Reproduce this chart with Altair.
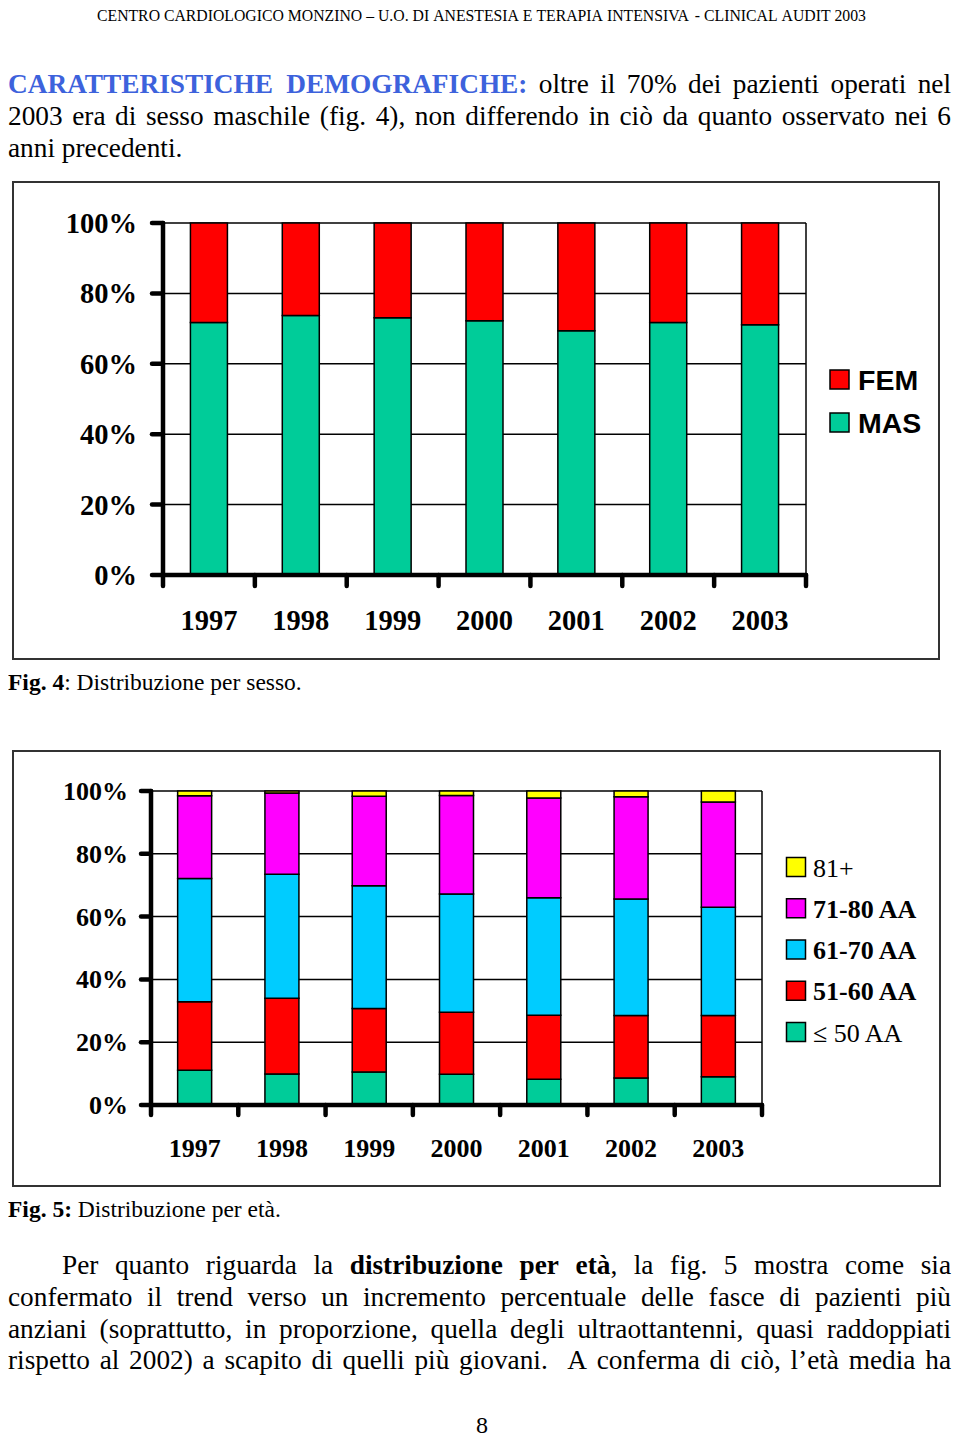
import altair as alt
import pandas as pd

# ---------------- data ----------------
years = ["1997", "1998", "1999", "2000", "2001", "2002", "2003"]

sex_groups = ["MAS", "FEM"]
sex_legend = ["FEM", "MAS"]
sex_colors = ["#00CC99", "#FF0000"]
mas_pct = [71.7, 73.7, 73.1, 72.2, 69.4, 71.7, 71.1]
fem_pct = [28.3, 26.3, 26.9, 27.8, 30.6, 28.3, 28.9]

age_groups = ["≤ 50 AA", "51-60 AA", "61-70 AA", "71-80 AA", "81+"]
age_legend = ["81+", "71-80 AA", "61-70 AA", "51-60 AA", "≤ 50 AA"]
age_legend_bold = [False, True, True, True, False]
age_colors = ["#00CC99", "#FF0000", "#00CCFF", "#FF00FF", "#FFFF00"]
age_le50 = [11.1, 9.9, 10.5, 9.8, 8.2, 8.6, 9.0]
age_51_60 = [21.8, 24.1, 20.2, 19.7, 20.4, 19.9, 19.5]
age_61_70 = [39.2, 39.5, 39.1, 37.7, 37.4, 37.1, 34.5]
age_71_80 = [26.4, 25.9, 28.5, 31.4, 31.8, 32.6, 33.5]
age_81 = [1.5, 0.6, 1.7, 1.4, 2.2, 1.8, 3.5]

pct_ticks = [0, 20, 40, 60, 80, 100]
pct_labels = ["0%", "20%", "40%", "60%", "80%", "100%"]

header_text = "CENTRO CARDIOLOGICO MONZINO – U.O. DI ANESTESIA E TERAPIA INTENSIVA - CLINICAL AUDIT 2003"
para1_lines = [
    [("CARATTERISTICHE DEMOGRAFICHE:", "blue"), (" oltre il 70% dei pazienti operati nel", "reg")],
    [("2003 era di sesso maschile (fig. 4), non differendo in ciò da quanto osservato nei 6", "reg")],
    [("anni precedenti.", "reg")],
]
caption4 = [("Fig. 4", "bold"), (": Distribuzione per sesso.", "reg")]
caption5 = [("Fig. 5:", "bold"), (" Distribuzione per età.", "reg")]
para2_lines = [
    [("Per quanto riguarda la ", "reg"), ("distribuzione per età", "bold"), (", la fig. 5 mostra come sia", "reg")],
    [("confermato il trend verso un incremento percentuale delle fasce di pazienti più", "reg")],
    [("anziani (soprattutto, in proporzione, quella degli ultraottantenni, quasi raddoppiati", "reg")],
    [("rispetto al 2002) a scapito di quelli più giovani.  A conferma di ciò, l’età media ha", "reg")],
]
page_number = "8"

# ---------------- text metrics (Times, 1/1000 em) ----------------
def _table(groups):
    d = {}
    for chars, w in groups:
        for ch in chars:
            d[ch] = w
    return d

TIMES_REG = _table([
    (" .,", 250), ("ijlt:;ì/", 278), ("fr()-’I", 333), ("sJ", 389), ("acezèà", 444),
    ("bdghknopquvxy0123456789òù–", 500), ("≤", 549), ("FPS", 556), ("+", 564),
    ("ELTZ", 611), ("BCR", 667), ("ADGHKNOQUVXYw", 722), ("m", 778), ("%", 833),
    ("M", 889), ("W", 944),
])
TIMES_BOLD = _table([
    (" .,", 250), ("ilì", 278), ("fjt():’-", 333), ("sI", 389), ("cezrè", 444),
    ("agovxy0123456789àòJ–", 500), ("≤", 549), ("bdhknpquùS", 556), ("+", 570),
    ("FP", 611), ("BELTZ", 667), ("ACDNRUVXYw", 722), ("GHKOQ", 778), ("m", 833),
    ("M", 944), ("%W", 1000),
])

STYLE_COLOR = {"reg": "#000000", "bold": "#000000", "blue": "#3D62DC"}


def is_bold(st):
    return st in ("bold", "blue")


def text_width(s, bold, size):
    tab = TIMES_BOLD if bold else TIMES_REG
    return sum(tab.get(ch, 500) for ch in s) * size / 1000.0


rows = []


def add_line(runs, y, x_left, x_right=None, size=27.3, justify=False, center=None):
    words = [[]]
    for txt, st in runs:
        parts = txt.split(" ")
        for i, p in enumerate(parts):
            if i > 0:
                words.append([])
            if p:
                words[-1].append((p, st))
    widths = [sum(text_width(s, is_bold(st), size) for s, st in w) for w in words]
    total = sum(widths)
    ngaps = len(words) - 1
    gap = TIMES_REG[" "] * size / 1000.0
    if justify and ngaps > 0:
        gap = (x_right - x_left - total) / ngaps
    if center is not None:
        x_left = center - (total + gap * ngaps) / 2.0
    x = x_left
    for w, ww in zip(words, widths):
        for s, st in w:
            rows.append(dict(t=s, x=x, y=y, fs=size, col=STYLE_COLOR[st], bold=is_bold(st)))
            x += text_width(s, is_bold(st), size)
        x += gap


BODY = 27.3
LEFT, RIGHT = 0, 943

# header
hdr_w = text_width(header_text, False, 1000) / 1000.0
add_line([(header_text, "reg")], 13, 0, size=769 / hdr_w, center=473.5)
# paragraph 1
add_line(para1_lines[0], 85, LEFT, RIGHT, BODY, justify=True)
add_line(para1_lines[1], 117, LEFT, RIGHT, BODY, justify=True)
add_line(para1_lines[2], 149, LEFT, size=BODY)
# captions
add_line(caption4, 682, LEFT, size=23.5)
add_line(caption5, 1208.5, LEFT, size=23.5)
# paragraph 2
add_line(para2_lines[0], 1266, 54, RIGHT, BODY, justify=True)
add_line(para2_lines[1], 1298, LEFT, RIGHT, BODY, justify=True)
add_line(para2_lines[2], 1330, LEFT, RIGHT, BODY, justify=True)
add_line(para2_lines[3], 1361, LEFT, RIGHT, BODY, justify=True)
# page number
add_line([(page_number, "reg")], 1425, 0, size=24, center=474)

text_df = pd.DataFrame(rows)


def text_layer(df, weight):
    return alt.Chart(df).mark_text(
        align="left", baseline="alphabetic", font="Liberation Serif", fontWeight=weight
    ).encode(
        x=alt.X("x:Q", scale=None, axis=None),
        y=alt.Y("y:Q", scale=None, axis=None),
        text="t:N",
        size=alt.Size("fs:Q", scale=None, legend=None),
        color=alt.Color("col:N", scale=None, legend=None),
    )


text_layers = [
    text_layer(text_df[~text_df["bold"]], "normal"),
    text_layer(text_df[text_df["bold"]], "bold"),
]

one = pd.DataFrame({"a": [0]})


def frame(x0, x1, y0, y1):
    return alt.Chart(one).mark_rect(fill="white", stroke="#333333", strokeWidth=2).encode(
        x=alt.value(x0), x2=alt.value(x1), y=alt.value(y0), y2=alt.value(y1)
    )


def panel(bar_df, groups, colors, X0, X1, Y0, Y100, bar_w, ylab_x, ylab_dy, lab_size, xlab_y, tl):
    n = len(years)
    step = (X1 - X0) / n
    xs = alt.Scale(type="band", domain=years, range=[X0, X1], paddingInner=0, paddingOuter=0)
    xp = alt.Scale(type="point", domain=years, range=[X0 + step / 2, X1 - step / 2], padding=0)
    ys = alt.Scale(domain=[0, 100], range=[Y0, Y100], nice=False, zero=False)
    xk = alt.Scale(domain=[0, n], range=[X0, X1], nice=False, zero=False)
    tick_df = pd.DataFrame({"v": pct_ticks, "lab": pct_labels})
    span_df = pd.DataFrame({"a": [0], "b": [100]})
    bnd_df = pd.DataFrame({"k": list(range(n + 1))})
    thick = dict(color="black", strokeWidth=4.5, strokeCap="round")

    grid = alt.Chart(tick_df).transform_filter("datum.v > 0").mark_rule(color="black", strokeWidth=1.5).encode(
        y=alt.Y("v:Q", scale=ys, axis=None), x=alt.value(X0), x2=alt.value(X1))
    right = alt.Chart(span_df).mark_rule(color="black", strokeWidth=1.5).encode(
        x=alt.value(X1), y=alt.Y("a:Q", scale=ys, axis=None), y2="b:Q")
    bars = alt.Chart(bar_df).mark_bar(size=bar_w, stroke="black", strokeWidth=1.5).encode(
        x=alt.X("year:N", scale=xs, axis=None),
        y=alt.Y("val:Q", scale=ys, axis=None, stack="zero"),
        color=alt.Color("grp:N", scale=alt.Scale(domain=groups, range=colors), legend=None),
        order=alt.Order("ord:Q"),
    )
    yaxis = alt.Chart(span_df).mark_rule(**thick).encode(
        x=alt.value(X0), y=alt.Y("a:Q", scale=ys, axis=None), y2="b:Q")
    xaxis = alt.Chart(span_df).mark_rule(**thick).encode(
        y=alt.Y("a:Q", scale=ys, axis=None), x=alt.value(X0), x2=alt.value(X1))
    yticks = alt.Chart(tick_df).mark_rule(**thick).encode(
        y=alt.Y("v:Q", scale=ys, axis=None), x=alt.value(X0 - tl), x2=alt.value(X0))
    xticks = alt.Chart(bnd_df).mark_rule(**thick).encode(
        x=alt.X("k:Q", scale=xk, axis=None), y=alt.value(Y0), y2=alt.value(Y0 + tl))
    ylab = alt.Chart(tick_df).mark_text(
        align="right", baseline="alphabetic", dy=ylab_dy, font="Liberation Serif",
        fontWeight="bold", fontSize=lab_size, color="black").encode(
        y=alt.Y("v:Q", scale=ys, axis=None), x=alt.value(ylab_x), text="lab:N")
    xlab = alt.Chart(pd.DataFrame({"year": years})).mark_text(
        align="center", baseline="alphabetic", font="Liberation Serif",
        fontWeight="bold", fontSize=lab_size, color="black").encode(
        x=alt.X("year:N", scale=xp, axis=None), y=alt.value(xlab_y), text="year:N")
    return [grid, right, bars, yaxis, xaxis, yticks, xticks, ylab, xlab]


# chart data tables
sex_df = pd.DataFrame({
    "year": years * 2,
    "grp": ["MAS"] * len(years) + ["FEM"] * len(years),
    "val": mas_pct + fem_pct,
    "ord": [0] * len(years) + [1] * len(years),
})
age_series = [age_le50, age_51_60, age_61_70, age_71_80, age_81]
age_rows = []
for gi, (g, ser) in enumerate(zip(age_groups, age_series)):
    for y, v in zip(years, ser):
        age_rows.append(dict(year=y, grp=g, val=v, ord=gi))
age_df = pd.DataFrame(age_rows)

p1 = panel(sex_df, sex_groups, sex_colors, 155, 798, 567, 215, 37, 129, 10, 28.5, 622, 11)
p2 = panel(age_df, age_groups, age_colors, 143, 754, 1097, 783, 34, 120, 9, 26, 1148.5, 10)

# legends
leg1_df = pd.DataFrame({"grp": sex_legend})
leg1_y = alt.Scale(type="point", domain=sex_legend, range=[371.5, 414.5], padding=0)
leg1_sq = alt.Chart(leg1_df).mark_square(size=361, stroke="black", strokeWidth=1.5, opacity=1).encode(
    x=alt.value(831.5), y=alt.Y("grp:N", scale=leg1_y, axis=None),
    color=alt.Color("grp:N", scale=alt.Scale(domain=sex_groups, range=sex_colors), legend=None))
leg1_tx = alt.Chart(leg1_df).mark_text(
    align="left", baseline="alphabetic", dy=10, font="Liberation Sans", fontWeight="bold",
    fontSize=28.5, color="black").encode(
    x=alt.value(850), y=alt.Y("grp:N", scale=leg1_y, axis=None), text="grp:N")

leg2_df = pd.DataFrame({"grp": age_legend, "b": age_legend_bold})
leg2_y = alt.Scale(type="point", domain=age_legend, range=[859, 1024], padding=0)
leg2_sq = alt.Chart(leg2_df).mark_square(size=361, stroke="black", strokeWidth=1.5, opacity=1).encode(
    x=alt.value(788), y=alt.Y("grp:N", scale=leg2_y, axis=None),
    color=alt.Color("grp:N", scale=alt.Scale(domain=age_groups, range=age_colors), legend=None))


def leg2_text(df, weight):
    return alt.Chart(df).mark_text(
        align="left", baseline="alphabetic", dy=9.5, font="Liberation Serif", fontWeight=weight,
        fontSize=26, color="black").encode(
        x=alt.value(805), y=alt.Y("grp:N", scale=leg2_y, axis=None), text="grp:N")


leg2_tx_b = leg2_text(leg2_df[leg2_df["b"]], "bold")
leg2_tx_r = leg2_text(leg2_df[~leg2_df["b"]], "normal")

layers = (
    [frame(5, 931, 174, 651), frame(5, 932, 743, 1178)]
    + p1 + p2
    + [leg1_sq, leg1_tx, leg2_sq, leg2_tx_b, leg2_tx_r]
    + text_layers
)

chart = alt.layer(*layers).resolve_scale(
    x="independent", y="independent", color="independent", size="independent"
).properties(
    width=944, height=1432, autosize=alt.AutoSizeParams(type="none"), padding=0
).configure_view(strokeWidth=0)

chart.save("out.html", embed_options={"renderer": "svg", "actions": False})
